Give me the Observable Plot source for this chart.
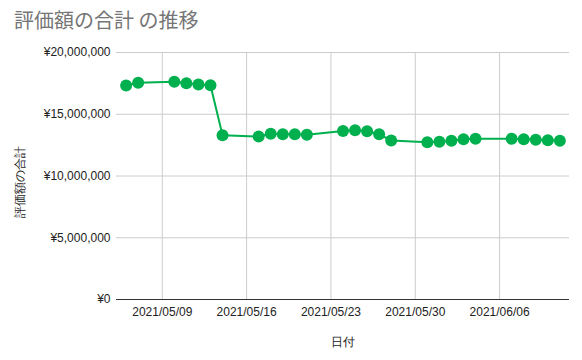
<!DOCTYPE html>
<html><head><meta charset="utf-8">
<script src="https://cdn.jsdelivr.net/npm/d3@7"></script>
<script src="https://cdn.jsdelivr.net/npm/@observablehq/plot@0.6"></script>
<style>
body{margin:0;background:#fff;}
#wrap{position:relative;width:582px;height:360px;overflow:hidden;}
#title{position:absolute;left:14px;top:6px;font-family:"Noto Sans CJK JP","Noto Sans",sans-serif;font-size:20px;color:#757575;line-height:28px;white-space:nowrap;}
#chart{position:absolute;left:0;top:40px;}
</style></head>
<body>
<div id="wrap"><div id="title">評価額の合計 の推移</div><div id="chart"></div></div>
<script>
const dates = ["2021-05-06","2021-05-07","2021-05-10","2021-05-11","2021-05-12","2021-05-13","2021-05-14",
  "2021-05-17","2021-05-18","2021-05-19","2021-05-20","2021-05-21",
  "2021-05-24","2021-05-25","2021-05-26","2021-05-27","2021-05-28",
  "2021-05-31","2021-06-01","2021-06-02","2021-06-03","2021-06-04",
  "2021-06-07","2021-06-08","2021-06-09","2021-06-10","2021-06-11"];
const values = [17330000,17550000,17630000,17510000,17410000,17350000,13300000,
  13200000,13420000,13380000,13380000,13340000,
  13640000,13710000,13630000,13380000,12870000,
  12740000,12770000,12850000,12980000,13010000,
  13010000,12980000,12930000,12900000,12850000];
const xTicks = ["2021-05-09","2021-05-16","2021-05-23","2021-05-30","2021-06-06"];
const yTicks = [0,5000000,10000000,15000000,20000000];
const xTitle = "日付";
const yTitle = "評価額の合計";

const data = dates.map((d,i)=>({date:new Date(d+"T00:00:00Z"), value:values[i]}));
const xt = xTicks.map(d=>new Date(d+"T00:00:00Z"));
const fmtDate = d3.utcFormat("%Y/%m/%d");
const fmtYen = v => "¥" + d3.format(",")(v);
const color = "#00b04f";

const chart = Plot.plot({
  width:582, height:320,
  marginTop:12, marginBottom:61, marginLeft:116, marginRight:13,
  style:{fontFamily:"'Liberation Sans',Arial,sans-serif", fontSize:"12px", color:"#222", background:"#fff"},
  x:{type:"utc", domain:[new Date("2021-05-05T04:48:00Z"), new Date("2021-06-11T19:12:00Z")]},
  y:{domain:[0,20000000]},
  marks:[
    Plot.gridX(xt,{stroke:"#cccccc", strokeOpacity:1}),
    Plot.gridY(yTicks,{stroke:"#cccccc", strokeOpacity:1}),
    Plot.axisX(xt,{tickSize:0, tickPadding:8, tickFormat:fmtDate, label:xTitle, labelAnchor:"center", labelArrow:"none", labelOffset:46, fontSize:12}),
    Plot.axisY(yTicks,{tickSize:0, tickPadding:6, tickFormat:fmtYen, label:null, fontSize:12}),
    Plot.text([yTitle],{text:d=>d, frameAnchor:"left", y:[9480000], rotate:-90, dx:-96, textAnchor:"middle", lineAnchor:"middle", fontSize:12, fill:"#222", fontFamily:"'Liberation Sans',Arial,sans-serif"}),
    Plot.ruleY([0],{stroke:"#333333", strokeWidth:1}),
    Plot.line(data,{x:"date", y:"value", stroke:color, strokeWidth:2}),
    Plot.dot(data,{x:"date", y:"value", fill:color, r:6})
  ]
});
document.getElementById("chart").appendChild(chart);
</script>
</body></html>
